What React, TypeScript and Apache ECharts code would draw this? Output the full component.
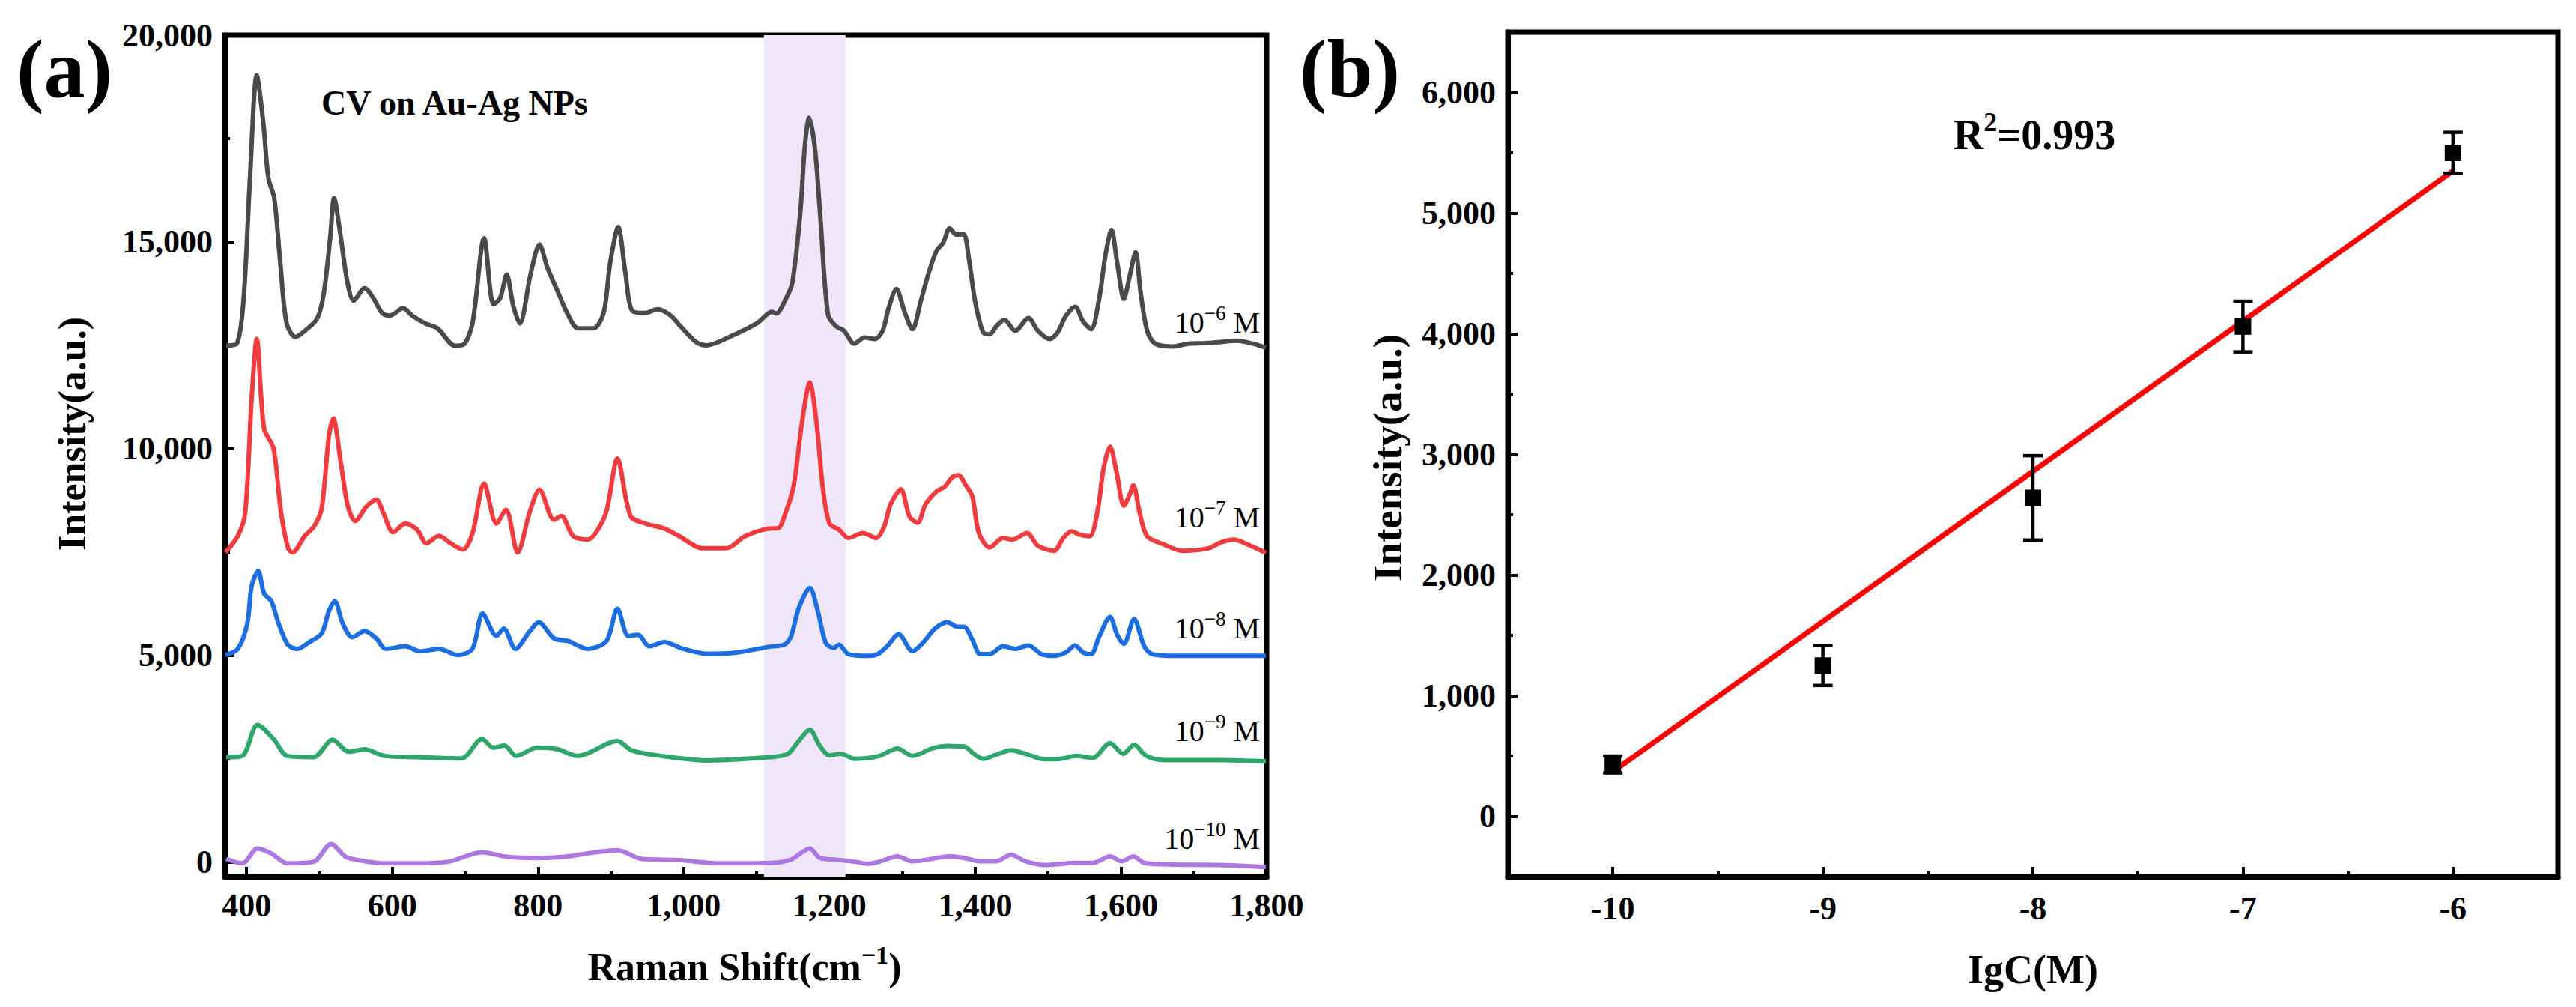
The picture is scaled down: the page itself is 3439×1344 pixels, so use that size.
import React, { useEffect, useRef } from "react";
import * as echarts from "echarts";

const W = 3439;
const H = 1344;
const FONT = "Liberation Serif";

// ---- Panel (a): Raman spectra, [Raman shift (cm-1), intensity] ----
const spec6: number[][] = [
  [372,12490],[387,12550],[396,13640],[405,16660],[414,19030],[423,17880],[430,16540],[438,16060],[446,14550],[455,13030],[467,12700],[482,12880],[497,13150],[506,13760],[515,15150],[520,16060],[529,15150],[538,14060],[547,13580],[562,13880],[574,13640],[586,13280],[597,13220],[615,13400],[627,13220],[645,13030],[662,12910],[686,12490],[698,12520],[710,13030],[726,15090],[739,13490],[748,13640],[757,14210],[766,13460],[775,13030],[790,14240],[802,14940],[813,14370],[828,13760],[840,13280],[855,12910],[876,12910],[890,13280],[899,14490],[910,15360],[920,14240],[929,13340],[947,13280],[964,13370],[982,13220],[995,12970],[1017,12580],[1031,12500],[1066,12730],[1101,13040],[1121,13310],[1127,13270],[1140,13620],[1149,14010],[1160,15720],[1166,17270],[1172,18000],[1180,17270],[1187,15720],[1198,13240],[1209,12960],[1220,12850],[1234,12540],[1248,12690],[1262,12650],[1273,12850],[1281,13390],[1292,13860],[1303,13310],[1314,12890],[1325,13550],[1336,14240],[1347,14790],[1356,14980],[1365,15330],[1374,15180],[1384,15190],[1391,14630],[1400,13550],[1411,12810],[1420,12770],[1429,12960],[1440,13120],[1455,12850],[1473,13160],[1486,12850],[1502,12650],[1513,12810],[1524,13200],[1537,13430],[1548,13080],[1559,12890],[1570,13620],[1579,14710],[1587,15290],[1595,14480],[1604,13620],[1612,14170],[1620,14750],[1627,13780],[1636,12850],[1647,12540],[1671,12470],[1693,12540],[1715,12550],[1737,12580],[1759,12610],[1781,12540],[1799,12440]
];
const spec7: number[][] = [
  [371,7490],[388,7890],[398,8430],[407,11220],[414,12650],[424,10490],[437,10010],[447,8490],[457,7590],[463,7490],[480,7890],[493,8130],[503,8550],[513,10310],[519,10730],[529,9700],[539,8610],[549,8250],[565,8610],[578,8770],[588,8430],[601,7980],[618,8190],[634,8040],[647,7710],[664,7890],[680,7710],[697,7560],[710,7950],[726,9160],[743,8190],[756,8520],[772,7490],[789,8490],[802,9010],[822,8280],[832,8370],[848,7890],[868,7800],[881,8010],[894,8490],[909,9760],[927,8370],[947,8190],[973,8070],[993,7890],[1026,7590],[1058,7590],[1085,7890],[1121,8070],[1129,8070],[1140,8460],[1151,9120],[1162,10600],[1173,11600],[1182,10670],[1191,9040],[1200,8190],[1213,8040],[1226,7840],[1246,7960],[1264,7840],[1275,8110],[1284,8660],[1298,9020],[1310,8350],[1321,8210],[1332,8660],[1347,8970],[1358,9080],[1369,9320],[1377,9360],[1387,9120],[1396,8850],[1405,7960],[1420,7610],[1438,7840],[1451,7800],[1471,7960],[1486,7650],[1508,7530],[1521,7840],[1532,8000],[1543,7920],[1557,7880],[1568,8500],[1576,9510],[1585,10050],[1594,9430],[1604,8620],[1612,8890],[1617,9120],[1626,8420],[1636,7880],[1658,7690],[1684,7530],[1720,7590],[1737,7730],[1755,7800],[1773,7690],[1799,7480]
];
const spec8: number[][] = [
  [371,5010],[388,5160],[401,5770],[407,6680],[416,7040],[424,6500],[434,6310],[444,5770],[457,5250],[470,5160],[486,5320],[503,5530],[513,6070],[521,6310],[532,5770],[545,5440],[562,5590],[578,5410],[591,5160],[618,5220],[638,5100],[664,5160],[690,5010],[710,5160],[724,6010],[743,5470],[753,5650],[769,5160],[789,5590],[801,5800],[822,5410],[841,5350],[868,5160],[894,5350],[909,6130],[924,5470],[937,5500],[953,5220],[973,5320],[999,5160],[1032,5040],[1072,5070],[1121,5220],[1138,5260],[1147,5450],[1158,6150],[1173,6630],[1184,6070],[1195,5300],[1206,5180],[1213,5260],[1226,5030],[1253,4990],[1266,5030],[1279,5220],[1295,5510],[1314,5100],[1328,5300],[1345,5650],[1362,5800],[1374,5700],[1385,5690],[1396,5380],[1407,5030],[1420,5030],[1438,5220],[1455,5160],[1473,5240],[1491,5030],[1508,4990],[1524,5070],[1537,5240],[1548,5070],[1559,5030],[1570,5450],[1585,5930],[1595,5490],[1604,5280],[1618,5880],[1632,5220],[1643,5030],[1676,4990],[1737,4990],[1799,4990]
];
const spec9: number[][] = [
  [372,2540],[394,2570],[415,3320],[437,2980],[456,2570],[492,2540],[518,2960],[540,2670],[562,2730],[589,2570],[633,2540],[695,2510],[723,2980],[739,2770],[754,2820],[770,2570],[799,2770],[827,2730],[854,2570],[909,2930],[929,2700],[969,2570],[1031,2460],[1119,2540],[1143,2620],[1156,2890],[1173,3200],[1187,2810],[1200,2580],[1215,2620],[1235,2500],[1253,2520],[1270,2580],[1293,2750],[1314,2570],[1341,2750],[1363,2810],[1385,2800],[1398,2620],[1411,2500],[1429,2600],[1449,2710],[1469,2620],[1495,2490],[1517,2500],[1539,2570],[1561,2520],[1585,2880],[1603,2620],[1618,2840],[1634,2580],[1658,2470],[1737,2470],[1799,2440]
];
const spec10: number[][] = [
  [372,80],[394,-30],[415,330],[434,210],[456,-30],[492,10],[516,440],[536,130],[553,50],[589,-30],[633,-30],[677,10],[723,240],[757,130],[801,100],[836,130],[909,290],[942,80],[995,50],[1048,-30],[1121,-20],[1147,60],[1160,210],[1173,330],[1187,100],[1209,60],[1235,10],[1253,-40],[1270,20],[1293,140],[1314,20],[1341,80],[1363,140],[1385,100],[1407,20],[1429,20],[1449,180],[1469,20],[1495,-70],[1539,-20],[1561,-20],[1585,140],[1601,20],[1617,140],[1632,-20],[1671,-60],[1737,-70],[1799,-120]
];
const spectra = [
  { name: "10-6 M", data: spec6, color: "#4A4A4A" },
  { name: "10-7 M", data: spec7, color: "#F03B3F" },
  { name: "10-8 M", data: spec8, color: "#1C6EE0" },
  { name: "10-9 M", data: spec9, color: "#2FA66A" },
  { name: "10-10 M", data: spec10, color: "#AE78E2" },
];
const band: number[] = [1110, 1222];
const xTicksA = [400, 600, 800, 1000, 1200, 1400, 1600, 1800];
const xMinorA = [500, 700, 900, 1100, 1300, 1500, 1700];
const yTicksA = [0, 5000, 10000, 15000, 20000];
const yMinorA = [2500, 7500, 12500, 17500];
const concLabels = [
  { exp: "−6", y: 430 },
  { exp: "−7", y: 690 },
  { exp: "−8", y: 838 },
  { exp: "−9", y: 975 },
  { exp: "−10", y: 1119 },
];

// ---- Panel (b): calibration ----
const lgC = [-10, -9, -8, -7, -6];
const intensity = [430, 1250, 2640, 4060, 5500];
const errorBar = [70, 165, 350, 210, 170];
const fitLine: number[][] = [[-10, 370], [-6, 5350]];
const xTicksB = [-10, -9, -8, -7, -6];
const xMinorB = [-9.5, -8.5, -7.5, -6.5];
const yTicksB = [0, 1000, 2000, 3000, 4000, 5000, 6000];
const yMinorB = [500, 1500, 2500, 3500, 4500, 5500];

const fmt = (v: number) => Number(v).toLocaleString("en-US");

function mainAxis(dim: "x" | "y", grid: number, min: number, max: number, ticks: number[], labelMargin: number) {
  return {
    type: "value",
    gridIndex: grid,
    min,
    max,
    position: dim === "x" ? "bottom" : "left",
    axisLine: { show: true, onZero: false, lineStyle: { color: "#000", width: 7 } },
    axisTick: { show: true, inside: true, length: 13, lineStyle: { color: "#000", width: 4 }, customValues: ticks },
    axisLabel: {
      show: true,
      customValues: ticks,
      formatter: (v: number) => fmt(v),
      fontFamily: FONT,
      fontWeight: "bold",
      fontSize: 44,
      color: "#000",
      margin: labelMargin,
    },
    splitLine: { show: false },
    minorTick: { show: false },
  };
}
function minorAxis(dim: "x" | "y", grid: number, min: number, max: number, ticks: number[]) {
  return {
    type: "value",
    gridIndex: grid,
    min,
    max,
    position: dim === "x" ? "bottom" : "left",
    axisLine: { show: false, onZero: false },
    axisTick: { show: true, inside: true, length: 7, lineStyle: { color: "#000", width: 4 }, customValues: ticks },
    axisLabel: { show: false },
    splitLine: { show: false },
  };
}

export default function App() {
  const ref = useRef<HTMLDivElement>(null);
  useEffect(() => {
    document.body.style.margin = "0";
    if (!ref.current) return;
    const chart = echarts.init(ref.current, null, { renderer: "svg", width: W, height: H });

    const supStyle = (size: number, bold: boolean) => ({
      fontSize: size,
      fontFamily: FONT,
      fontWeight: bold ? "bold" : "normal",
      verticalAlign: "top",
      lineHeight: size,
      fill: "#000",
    });

    const graphics: any[] = [
      { type: "text", x: 86, y: 92, style: { text: "(a)", fontSize: 110, fontFamily: FONT, fontWeight: "bold", fill: "#000", align: "center", verticalAlign: "middle" } },
      { type: "text", x: 1802, y: 92, style: { text: "(b)", fontSize: 110, fontFamily: FONT, fontWeight: "bold", fill: "#000", align: "center", verticalAlign: "middle" } },
      { type: "text", x: 429, y: 137, style: { text: "CV on Au-Ag NPs", fontSize: 46, fontFamily: FONT, fontWeight: "bold", fill: "#000", align: "left", verticalAlign: "middle" } },
      { type: "text", x: 96, y: 579, rotation: Math.PI / 2, style: { text: "Intensity(a.u.)", fontSize: 52, fontFamily: FONT, fontWeight: "bold", fill: "#000", align: "center", verticalAlign: "middle" } },
      { type: "text", x: 1852, y: 611, rotation: Math.PI / 2, style: { text: "Intensity(a.u.)", fontSize: 55, fontFamily: FONT, fontWeight: "bold", fill: "#000", align: "center", verticalAlign: "middle" } },
      { type: "text", x: 994, y: 1290, style: { text: "Raman Shift(cm{sup|−1})", fontSize: 52, lineHeight: 66, fontFamily: FONT, fontWeight: "bold", fill: "#000", align: "center", verticalAlign: "middle", rich: { sup: supStyle(34, true) } } },
      { type: "text", x: 2714, y: 1294, style: { text: "IgC(M)", fontSize: 54, fontFamily: FONT, fontWeight: "bold", fill: "#000", align: "center", verticalAlign: "middle" } },
      { type: "text", x: 2716, y: 180, style: { text: "R{sup|2}=0.993", fontSize: 56, lineHeight: 70, fontFamily: FONT, fontWeight: "bold", fill: "#000", align: "center", verticalAlign: "middle", rich: { sup: supStyle(36, true) } } },
      ...concLabels.map((c) => ({
        type: "text",
        x: 1682,
        y: c.y,
        style: {
          text: "10{sup|" + c.exp + "} M",
          fontSize: 40,
          lineHeight: 52,
          fontFamily: FONT,
          fill: "#000",
          align: "right",
          verticalAlign: "middle",
          rich: { sup: supStyle(27, false) },
        },
      })),
    ];

    const option: any = {
      animation: false,
      backgroundColor: "#fff",
      grid: [
        { left: 300, top: 47, width: 1391, height: 1123, show: true, borderColor: "#000", borderWidth: 7, backgroundColor: "transparent" },
        { left: 2013, top: 43, width: 1402, height: 1127, show: true, borderColor: "#000", borderWidth: 7, backgroundColor: "transparent" },
      ],
      xAxis: [
        mainAxis("x", 0, 370, 1800, xTicksA, 16),
        minorAxis("x", 0, 370, 1800, xMinorA),
        mainAxis("x", 1, -10.5, -5.5, xTicksB, 20),
        minorAxis("x", 1, -10.5, -5.5, xMinorB),
      ],
      yAxis: [
        mainAxis("y", 0, -350, 20000, yTicksA, 16),
        minorAxis("y", 0, -350, 20000, yMinorA),
        mainAxis("y", 1, -500, 6500, yTicksB, 16),
        minorAxis("y", 1, -500, 6500, yMinorB),
      ],
      graphic: graphics,
      series: [
        {
          type: "custom",
          xAxisIndex: 0,
          yAxisIndex: 0,
          silent: true,
          z: 1,
          data: [band],
          renderItem: (params: any, api: any) => {
            const a = api.coord([api.value(0), 0]);
            const b = api.coord([api.value(1), 0]);
            const cs = params.coordSys;
            return {
              type: "rect",
              shape: { x: a[0], y: cs.y, width: b[0] - a[0], height: cs.height },
              style: { fill: "#EFE7F9" },
            };
          },
        },
        ...spectra.map((s) => ({
          type: "line",
          name: s.name,
          xAxisIndex: 0,
          yAxisIndex: 0,
          data: s.data,
          showSymbol: false,
          smooth: 0.3,
          z: 2,
          lineStyle: { color: s.color, width: 6 },
          itemStyle: { color: s.color },
        })),
        {
          type: "line",
          xAxisIndex: 2,
          yAxisIndex: 2,
          data: fitLine,
          showSymbol: false,
          z: 3,
          lineStyle: { color: "#FF0000", width: 7 },
        },
        {
          type: "custom",
          xAxisIndex: 2,
          yAxisIndex: 2,
          z: 4,
          data: lgC.map((x, i) => [x, intensity[i], errorBar[i]]),
          encode: { x: 0, y: 1 },
          renderItem: (params: any, api: any) => {
            const x = api.value(0);
            const y = api.value(1);
            const e = api.value(2);
            const t = api.coord([x, y + e]);
            const b = api.coord([x, y - e]);
            const hw = 13;
            const st = { stroke: "#000", lineWidth: 4.5 };
            return {
              type: "group",
              children: [
                { type: "line", shape: { x1: t[0], y1: t[1], x2: b[0], y2: b[1] }, style: st },
                { type: "line", shape: { x1: t[0] - hw, y1: t[1], x2: t[0] + hw, y2: t[1] }, style: st },
                { type: "line", shape: { x1: b[0] - hw, y1: b[1], x2: b[0] + hw, y2: b[1] }, style: st },
              ],
            };
          },
        },
        {
          type: "scatter",
          xAxisIndex: 2,
          yAxisIndex: 2,
          z: 5,
          symbol: "rect",
          symbolSize: 22,
          itemStyle: { color: "#000", opacity: 1 },
          data: lgC.map((x, i) => [x, intensity[i]]),
        },
      ],
    };
    chart.setOption(option);
    return () => chart.dispose();
  }, []);
  return <div ref={ref} style={{ width: W, height: H }} />;
}
